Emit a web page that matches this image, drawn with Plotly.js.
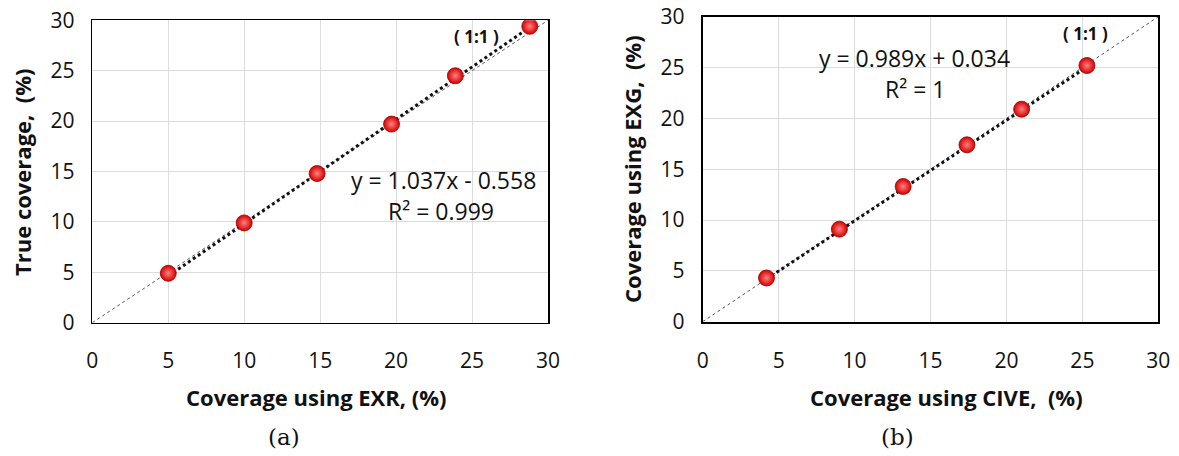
<!DOCTYPE html>
<html>
<head>
<meta charset="utf-8">
<script src="https://cdn.plot.ly/plotly-3.0.1.min.js"></script>
<style>html,body{margin:0;padding:0;background:#fff;}#chart{width:1179px;height:456px;}</style>
</head>
<body>
<div id="chart"></div>
<script>
// Panel (a): Coverage using EXR vs True coverage
const exrX = [5.0, 10.0, 14.8, 19.7, 23.9, 28.8];
const trueY = [4.9, 9.9, 14.8, 19.7, 24.5, 29.4];
const fitA = {slope: 1.037, intercept: -0.558};
const eqA = "y = 1.037x - 0.558";
const r2A = "R² = 0.999";

// Panel (b): Coverage using CIVE vs Coverage using EXG
const civeX = [4.2, 9.0, 13.2, 17.4, 21.0, 25.3];
const exgY = [4.3, 9.1, 13.3, 17.4, 20.9, 25.2];
const fitB = {slope: 0.989, intercept: 0.034};
const eqB = "y = 0.989x + 0.034";
const r2B = "R² = 1";

const axisRange = [0, 30];
const tickVals = [0, 5, 10, 15, 20, 25, 30];

function fitLine(xs, fit) {
  const x0 = Math.min(...xs), x1 = Math.max(...xs);
  return {x: [x0, x1], y: [fit.slope * x0 + fit.intercept, fit.slope * x1 + fit.intercept]};
}
const tA = fitLine(exrX, fitA);
const tB = fitLine(civeX, fitB);

const markerStyle = {
  size: 16, color: '#d40000',
  gradient: {type: 'radial', color: '#ff8080'},
  line: {color: '#a00000', width: 0.8}
};

const traces = [
  {x: axisRange, y: axisRange, xaxis: 'x', yaxis: 'y', mode: 'lines',
   line: {color: '#555', width: 1, dash: 'dot'}, hoverinfo: 'skip'},
  {x: tA.x, y: tA.y, xaxis: 'x', yaxis: 'y', mode: 'lines',
   line: {color: '#111', width: 3, dash: 'dot'}},
  {x: exrX, y: trueY, xaxis: 'x', yaxis: 'y', mode: 'markers', marker: markerStyle},
  {x: axisRange, y: axisRange, xaxis: 'x2', yaxis: 'y2', mode: 'lines',
   line: {color: '#555', width: 1, dash: 'dot'}, hoverinfo: 'skip'},
  {x: tB.x, y: tB.y, xaxis: 'x2', yaxis: 'y2', mode: 'lines',
   line: {color: '#111', width: 3, dash: 'dot'}},
  {x: civeX, y: exgY, xaxis: 'x2', yaxis: 'y2', mode: 'markers', marker: markerStyle}
];

const tickFont = {family: 'Open Sans, Noto Sans, sans-serif', size: 21, color: '#111'};
function axis(domain, anchor, lw, isX) {
  return {
    domain: domain, anchor: anchor, range: axisRange, tickvals: tickVals,
    showgrid: true, gridcolor: '#dcdcdc', gridwidth: 1,
    zeroline: false, showline: true, mirror: true, linecolor: '#000', linewidth: lw,
    ticks: 'outside', ticklen: isX ? 19 : 12, tickcolor: 'rgba(0,0,0,0)',
    tickfont: tickFont, fixedrange: true
  };
}

const boldFont = {family: 'Open Sans, Noto Sans, sans-serif', size: 22, color: '#111', weight: 'bold'};
const eqFont = {family: 'Open Sans, Noto Sans, sans-serif', size: 23, color: '#111'};
const lblFont = {family: 'Open Sans, Noto Sans, sans-serif', size: 17, color: '#111', weight: 'bold'};
const capFont = {family: 'DejaVu Serif, Liberation Serif, serif', size: 23, color: '#111'};

function paperAnn(text, x, y, font, extra) {
  return Object.assign({text: text, x: x / 1179, y: 1 - y / 456, xref: 'paper', yref: 'paper',
    showarrow: false, font: font, xanchor: 'center', yanchor: 'middle'}, extra || {});
}

const layout = {
  width: 1179, height: 456,
  margin: {l: 0, r: 0, t: 0, b: 0},
  paper_bgcolor: '#fff', plot_bgcolor: '#fff',
  showlegend: false,
  xaxis: axis([92.3 / 1179, 548 / 1179], 'y', 1.5, true),
  yaxis: axis([(456 - 322.7) / 456, (456 - 20.3) / 456], 'x', 1.5, false),
  xaxis2: axis([702.7 / 1179, 1158.3 / 1179], 'y2', 2, true),
  yaxis2: axis([(456 - 321.7) / 456, (456 - 16.7) / 456], 'x2', 2, false),
  annotations: [
    paperAnn('Coverage using EXR, (%)', 316, 397, boldFont),
    paperAnn('True coverage,  (%)', 22, 172, boldFont, {textangle: -90}),
    paperAnn('Coverage using CIVE,  (%)', 946, 397, boldFont),
    paperAnn('Coverage using EXG,  (%)', 632, 169, boldFont, {textangle: -90}),
    paperAnn('(a)', 284, 437, capFont),
    paperAnn('(b)', 897, 437, capFont),
    paperAnn(eqA, 443, 180, eqFont),
    paperAnn(r2A, 441, 211, eqFont),
    paperAnn('( 1:1 )', 476, 36, lblFont),
    paperAnn(eqB, 914, 58, eqFont),
    paperAnn(r2B, 915, 89, eqFont),
    paperAnn('( 1:1 )', 1085, 33, lblFont)
  ]
};

Plotly.newPlot('chart', traces, layout, {displayModeBar: false, staticPlot: true});
</script>
</body>
</html>
